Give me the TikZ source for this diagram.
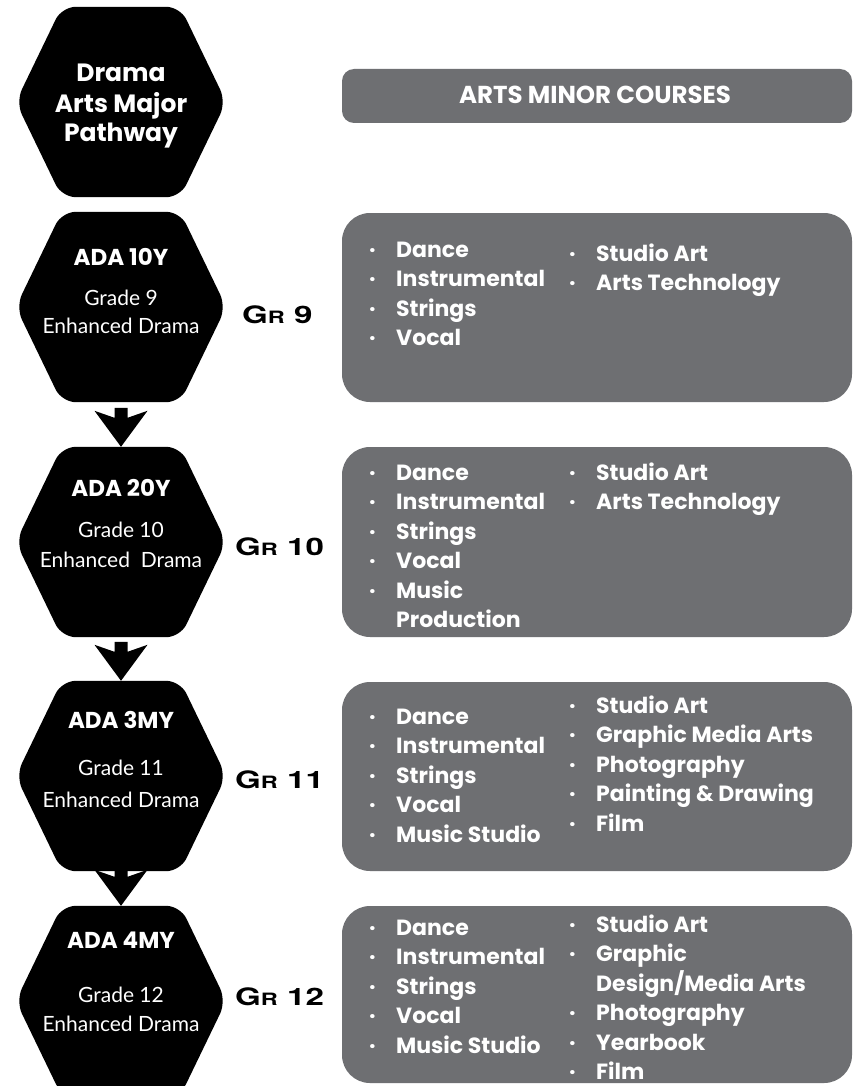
\documentclass[tikz,border=0pt]{standalone}
\usepackage{fontspec}
\setmainfont{Lato}
\newfontfamily\pop{Poppins}
\newfontfamily\grf{TeX Gyre Heros}[FakeStretch=1.38]
\usetikzlibrary{calc}
\definecolor{boxgray}{RGB}{110,111,114}
\newcommand\bl{\makebox[27pt][l]{·}}
\newcommand\ind{\makebox[27pt][l]{}}
\newcommand\hexdraw[1]{%
  \fill[black,rounded corners=14pt] (#1.north) -- ($(#1.north east)+(-46,0)$) -- (#1.east)
    -- ($(#1.south east)+(-46,0)$) -- ($(#1.south west)+(46,0)$) -- (#1.west)
    -- ($(#1.north west)+(46,0)$) -- cycle;}
\newcommand\blockarrow[1]{%
  \fill[black] (#1) -- ($(#1)+(-26.5,-36)$) -- ($(#1)+(-6.5,-29)$) -- ($(#1)+(-6.5,-39)$)
    -- ($(#1)+(6.5,-39)$) -- ($(#1)+(6.5,-29)$) -- ($(#1)+(26.5,-36)$) -- cycle;}
\newcommand\grlab[1]{{\grf\bfseries\fontsize{24}{24}\selectfont G\fontsize{17}{17}\selectfont R\fontsize{24}{24}\selectfont\ #1}}
\begin{document}
\begin{tikzpicture}[x=1pt,y=-1pt,
  hexbox/.style={minimum width=210pt,minimum height=190pt,inner sep=0pt,draw=none},
  graybox/.style={fill=boxgray,rounded corners=#1},
  title/.style={text=white,inner sep=0pt,anchor=base,font=\pop\bfseries\fontsize{23}{23}\selectfont},
  bigtitle/.style={title,font=\pop\bfseries\fontsize{25}{25}\selectfont},
  grade/.style={text=white,inner sep=0pt,anchor=base,font=\fontsize{21}{21}\selectfont},
  grl/.style={text=black,inner sep=0pt,anchor=base west},
  lst/.style={text=white,inner sep=0pt,anchor=base west,font=\pop\bfseries\fontsize{22}{29.5}\selectfont},
  hdr/.style={text=white,inner sep=0pt,anchor=base,font=\pop\bfseries\fontsize{24.5}{24.5}\selectfont}]
\useasboundingbox (0,0) rectangle (855,1086);
\clip (0,0) rectangle (855,1086);
\fill[white] (0,0) rectangle (855,1086);

% hexagons
\node[hexbox] (h1) at (121,102) {};
\node[hexbox] (h2) at (121,307) {};
\node[hexbox] (h3) at (121,542) {};
\node[hexbox] (h4) at (121,776) {};
\node[hexbox] (h5) at (121,1001) {};
\hexdraw{h1}\hexdraw{h2}\hexdraw{h3}\hexdraw{h4}\hexdraw{h5}

% arrows
\blockarrow{h3.north}
\blockarrow{h4.north}
\blockarrow{h5.north}

% hexagon texts
\node[bigtitle] (t1a) at (121,82) {Drama};
\node[bigtitle] (t1b) at (121,112.5) {Arts Major};
\node[bigtitle] (t1c) at (121,142) {Pathway};

\node[title] (t2a) at (121,265) {ADA 10Y};
\node[grade] (t2b) at (121,305) {Grade 9};
\node[grade] (t2c) at (121,333) {Enhanced Drama};

\node[title] (t3a) at (121,496) {ADA 20Y};
\node[grade] (t3b) at (121,537) {Grade 10};
\node[grade] (t3c) at (121,567) {Enhanced\ \ Drama};

\node[title] (t4a) at (121,728) {ADA 3MY};
\node[grade] (t4b) at (121,775) {Grade 11};
\node[grade] (t4c) at (121,807) {Enhanced Drama};

\node[title] (t5a) at (121,948) {ADA 4MY};
\node[grade] (t5b) at (121,1002) {Grade 12};
\node[grade] (t5c) at (121,1031) {Enhanced Drama};

% grade labels
\node[grl] (g9) at (242,323) {\grlab{9}};
\node[grl] (g10) at (235,555) {\grlab{10}};
\node[grl] (g11) at (235,788) {\grlab{11}};
\node[grl] (g12) at (235,1005) {\grlab{12}};

% gray boxes
\fill[graybox=12pt] (342,69) rectangle (852,123);
\node[hdr] (hdr) at (595,104) {ARTS MINOR COURSES};
\fill[graybox=28pt] (342,213) rectangle (852,402);
\fill[graybox=28pt] (342,447) rectangle (852,637);
\fill[graybox=28pt] (342,682) rectangle (852,871);
\fill[graybox=28pt] (342,906) rectangle (852,1083);

% lists
\node[lst] (l1a) at (369,257) {\begin{tabular}[t]{@{}l@{}}\bl Dance\\ \bl Instrumental\\ \bl Strings\\ \bl Vocal\end{tabular}};
\node[lst] (l1b) at (569,261) {\begin{tabular}[t]{@{}l@{}}\bl Studio Art\\ \bl Arts Technology\end{tabular}};

\node[lst] (l2a) at (369,480) {\begin{tabular}[t]{@{}l@{}}\bl Dance\\ \bl Instrumental\\ \bl Strings\\ \bl Vocal\\ \bl Music\\ \ind Production\end{tabular}};
\node[lst] (l2b) at (569,480) {\begin{tabular}[t]{@{}l@{}}\bl Studio Art\\ \bl Arts Technology\end{tabular}};

\node[lst] (l3a) at (369,724) {\begin{tabular}[t]{@{}l@{}}\bl Dance\\ \bl Instrumental\\ \bl Strings\\ \bl Vocal\\ \bl Music Studio\end{tabular}};
\node[lst] (l3b) at (569,713) {\begin{tabular}[t]{@{}l@{}}\bl Studio Art\\ \bl Graphic Media Arts\\ \bl Photography\\ \bl Painting \& Drawing\\ \bl Film\end{tabular}};

\node[lst] (l4a) at (369,935) {\begin{tabular}[t]{@{}l@{}}\bl Dance\\ \bl Instrumental\\ \bl Strings\\ \bl Vocal\\ \bl Music Studio\end{tabular}};
\node[lst] (l4b) at (569,932) {\begin{tabular}[t]{@{}l@{}}\bl Studio Art\\ \bl Graphic\\ \ind Design/Media Arts\\ \bl Photography\\ \bl Yearbook\\ \bl Film\end{tabular}};
\end{tikzpicture}
\end{document}
